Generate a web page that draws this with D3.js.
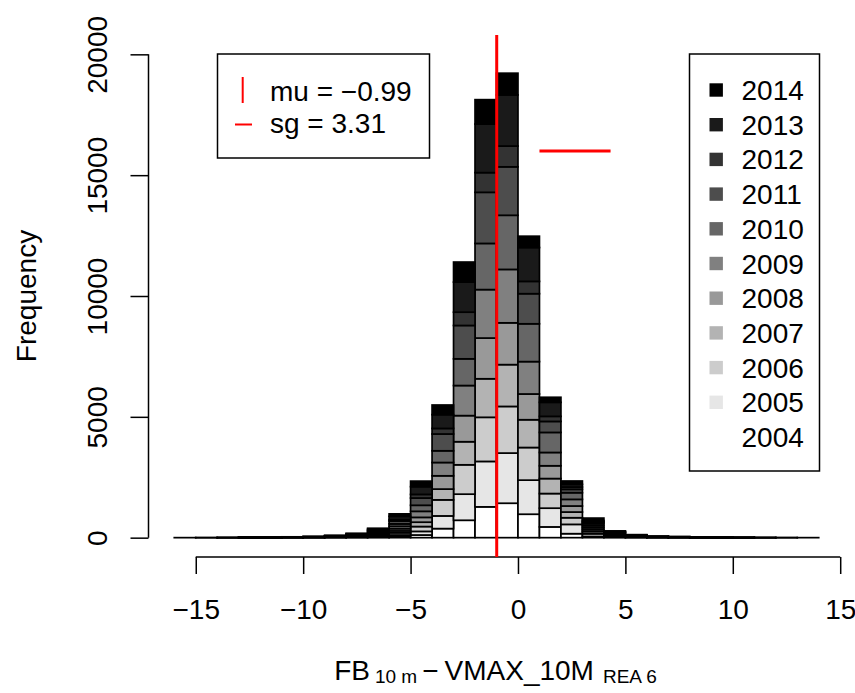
<!DOCTYPE html>
<html>
<head>
<meta charset="utf-8">
<script src="https://cdn.jsdelivr.net/npm/d3@7"></script>
<style>
    body { margin: 0; background: #fff; }
    svg { display: block; font-family: "Liberation Sans", Arial, Helvetica, sans-serif; }
</style>
</head>
<body>
<div id="wrapper"></div>
<script>
// bin edges (width 1) and the stacked years, bottom (2004) to top (2014)
const binEdges = [-16, -15, -14, -13, -12, -11, -10, -9, -8, -7, -6, -5, -4, -3, -2, -1,
    0, 1, 2, 3, 4, 5, 6, 7, 8, 9, 10, 11, 12, 13, 14];
const years = ["2004", "2005", "2006", "2007", "2008", "2009", "2010", "2011", "2012", "2013", "2014"];
const yearFills = ["#ffffff", "#e6e6e6", "#cccccc", "#b3b3b3", "#999999", "#808080",
    "#666666", "#4d4d4d", "#333333", "#1a1a1a", "#000000"];

const y2004 = [0,0,0,1,1,2,3,5,8,16,40,110,375,720,1275,1425,970,445,165,50,15,5,2,2,1,1,0,0,0,0];
const y2005 = [0,0,0,2,2,3,4,8,14,30,70,150,525,1080,1880,2075,1410,775,385,110,35,15,6,4,2,1,1,0,0,0];
const y2006 = [0,0,0,2,2,3,5,9,16,35,90,200,665,1215,1825,1930,1350,605,275,90,30,12,6,4,2,1,1,0,0,0];
const y2007 = [0,0,0,1,2,3,4,8,15,32,80,180,445,955,1595,1730,1150,620,235,80,30,12,6,4,2,1,1,1,0,0];
const y2008 = [0,0,0,2,2,3,5,9,16,35,90,200,550,1080,1685,1730,1065,530,250,80,30,12,6,4,2,1,1,0,0,0];
const y2009 = [0,0,1,2,2,4,5,10,20,42,100,250,550,1245,2005,2210,1340,550,275,80,30,14,7,5,3,2,1,1,1,0];
const y2010 = [0,0,0,2,2,4,5,10,20,42,100,250,485,1105,1910,2240,1565,830,275,80,30,14,7,5,3,2,1,0,0,0];
const y2011 = [0,0,1,3,2,4,6,12,22,48,120,300,695,1380,2115,2005,1245,455,140,60,25,12,6,5,3,2,1,1,0,0];
const y2012 = [0,0,0,1,1,2,3,5,10,22,60,150,230,550,815,860,510,210,95,30,10,5,3,2,1,1,0,0,0,0];
const y2013 = [0,1,2,2,2,4,6,11,22,48,130,320,570,1245,2010,2115,1400,580,110,50,25,12,6,5,3,2,1,1,1,0];
const y2014 = [1,1,1,2,2,3,4,8,17,40,105,230,400,830,1010,900,470,210,140,100,20,12,5,5,3,1,0,0,0,1];
const yearSeries = [y2004, y2005, y2006, y2007, y2008, y2009, y2010, y2011, y2012, y2013, y2014];

const xTicks = [-15, -10, -5, 0, 5, 10, 15];
const xTickLabels = ["\u221215", "\u221210", "\u22125", "0", "5", "10", "15"];
const yTicks = [0, 5000, 10000, 15000, 20000];
const yTickLabels = ["0", "5000", "10000", "15000", "20000"];

const mu = -0.99;
const sg = 3.31;
const sgStart = 1;       // where the sg bar starts on x
const sgLevel = 16000;   // height of the sg bar

const width = 855, height = 693;
const fontSize = 28;

const svg = d3.select("#wrapper")
    .append("svg")
    .attr("width", width)
    .attr("height", height);

// plot region (R style, 4% padding)
const xScale = d3.scaleLinear().domain([-17.2, 15.2]).range([148.5, 844.5]);
const yScale = d3.scaleLinear().domain([-800, 20800]).range([557, 35]);

// table for d3.stack
const rows = binEdges.slice(0, -1).map((edge, i) => {
    const row = { x0: edge, x1: binEdges[i + 1] };
    years.forEach((yr, j) => { row[yr] = yearSeries[j][i]; });
    return row;
});
const stacked = d3.stack().keys(years)(rows);

const bars = svg.append("g");
stacked.forEach((layer, j) => {
    bars.append("g")
        .selectAll("rect")
        .data(layer)
        .join("rect")
        .attr("x", d => xScale(d.data.x0))
        .attr("width", d => xScale(d.data.x1) - xScale(d.data.x0))
        .attr("y", d => yScale(d[1]))
        .attr("height", d => yScale(d[0]) - yScale(d[1]))
        .attr("fill", yearFills[j])
        .attr("stroke", "#000")
        .attr("stroke-width", 1.7);
});

// y axis
const yAxis = svg.append("g")
    .attr("transform", `translate(${xScale(-17.2)},0)`)
    .call(d3.axisLeft(yScale).tickValues(yTicks).tickSize(18).tickFormat((d, i) => yTickLabels[i]));
yAxis.select(".domain").remove();
yAxis.selectAll("line").attr("stroke-width", 1.5);
yAxis.selectAll("text")
    .attr("transform", "rotate(-90)")
    .attr("x", 0)
    .attr("y", -42)
    .attr("dy", 0)
    .attr("text-anchor", "middle")
    .attr("font-size", fontSize)
    .attr("font-family", "Liberation Sans, Arial, sans-serif")
    .attr("fill", "#000");
yAxis.append("line")
    .attr("x1", 0).attr("x2", 0)
    .attr("y1", yScale(yTicks[0])).attr("y2", yScale(yTicks[yTicks.length - 1]))
    .attr("stroke", "#000").attr("stroke-width", 1.5);

// x axis
const xAxis = svg.append("g")
    .attr("transform", `translate(0,${yScale(-800)})`)
    .call(d3.axisBottom(xScale).tickValues(xTicks).tickSize(17).tickFormat((d, i) => xTickLabels[i]));
xAxis.select(".domain").remove();
xAxis.selectAll("line").attr("stroke-width", 1.5);
xAxis.selectAll("text")
    .attr("y", 62)
    .attr("dy", 0)
    .attr("font-size", fontSize)
    .attr("font-family", "Liberation Sans, Arial, sans-serif")
    .attr("fill", "#000");
xAxis.append("line")
    .attr("x1", xScale(xTicks[0])).attr("x2", xScale(xTicks[xTicks.length - 1]))
    .attr("y1", 0).attr("y2", 0)
    .attr("stroke", "#000").attr("stroke-width", 1.5);

// axis titles
svg.append("text")
    .attr("transform", "translate(36,296) rotate(-90)")
    .attr("text-anchor", "middle")
    .attr("font-size", fontSize)
    .text("Frequency");

const xTitle = svg.append("text")
    .attr("x", 495.5)
    .attr("y", 680)
    .attr("text-anchor", "middle")
    .attr("font-size", fontSize);
xTitle.append("tspan").text("FB");
xTitle.append("tspan").attr("font-size", 19).attr("dx", 5).attr("dy", 3).text("10 m");
xTitle.append("tspan").attr("dx", 5).attr("dy", -3).text("\u2212");
xTitle.append("tspan").attr("dx", 6).text("VMAX_10M");
xTitle.append("tspan").attr("font-size", 19).attr("dx", 9).attr("dy", 3).text("REA 6");

// mean and spread marks
svg.append("line")
    .attr("x1", xScale(mu)).attr("x2", xScale(mu))
    .attr("y1", yScale(20800)).attr("y2", yScale(-800))
    .attr("stroke", "#ff0000").attr("stroke-width", 3);
svg.append("line")
    .attr("x1", xScale(sgStart)).attr("x2", xScale(sgStart + sg))
    .attr("y1", yScale(sgLevel)).attr("y2", yScale(sgLevel))
    .attr("stroke", "#ff0000").attr("stroke-width", 3);

// legend: mu / sg
const leg1 = svg.append("g");
leg1.append("rect")
    .attr("x", 217.5).attr("y", 54).attr("width", 212).attr("height", 104)
    .attr("fill", "#fff").attr("stroke", "#000").attr("stroke-width", 1.5);
leg1.append("line")
    .attr("x1", 242.7).attr("x2", 242.7).attr("y1", 77).attr("y2", 103)
    .attr("stroke", "#ff0000").attr("stroke-width", 2);
leg1.append("line")
    .attr("x1", 235).attr("x2", 252).attr("y1", 124.5).attr("y2", 124.5)
    .attr("stroke", "#ff0000").attr("stroke-width", 2);
leg1.append("text").attr("x", 270).attr("y", 100.5).attr("font-size", fontSize)
    .text(`mu = ${d3.format(".2f")(mu)}`);
leg1.append("text").attr("x", 270).attr("y", 133).attr("font-size", fontSize)
    .text(`sg = ${d3.format(".2f")(sg)}`);

// legend: years, newest on top
const leg2 = svg.append("g");
leg2.append("rect")
    .attr("x", 689.5).attr("y", 54).attr("width", 130).attr("height", 417)
    .attr("fill", "#fff").attr("stroke", "#000").attr("stroke-width", 1.5);
const legendYears = years.slice().reverse();
const legendFills = yearFills.slice().reverse();
legendYears.forEach((yr, k) => {
    const cy = 90 + k * 34.7;
    leg2.append("rect")
        .attr("x", 709.5).attr("y", cy - 6.7).attr("width", 13.4).attr("height", 13.4)
        .attr("fill", legendFills[k]);
    leg2.append("text")
        .attr("x", 741.5).attr("y", cy + 10)
        .attr("font-size", fontSize)
        .text(yr);
});
</script>
</body>
</html>
